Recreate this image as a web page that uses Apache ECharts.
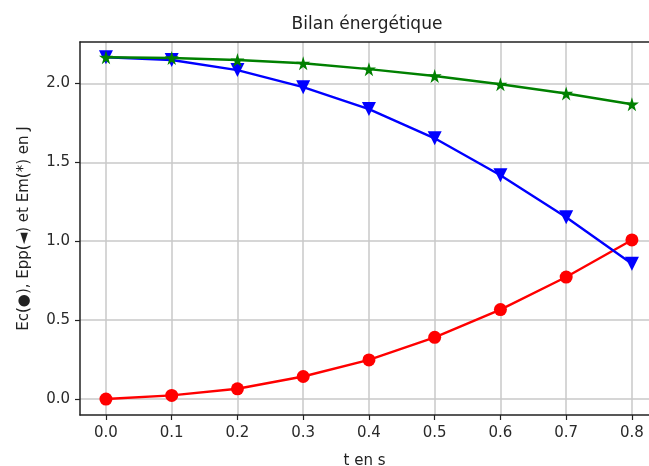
<!DOCTYPE html>
<html>
<head>
<meta charset="utf-8">
<script src="https://cdn.jsdelivr.net/npm/echarts@6/dist/echarts.min.js"></script>
<style>
  html, body { margin: 0; padding: 0; background: #fff; }
  #main { width: 649px; height: 466px; }
</style>
</head>
<body>
<div id="main"></div>
<script>
// temps (s)
var t = [0.0, 0.1, 0.2, 0.3, 0.4, 0.5, 0.6, 0.7, 0.8];
// energies (J)
var ec  = [0.0, 0.023, 0.065, 0.143, 0.248, 0.391, 0.567, 0.773, 1.008];
var epp = [2.165, 2.148, 2.084, 1.976, 1.837, 1.652, 1.418, 1.152, 0.857];
var em  = [2.165, 2.161, 2.148, 2.127, 2.090, 2.047, 1.994, 1.936, 1.868];
var xTicks = [0, 0.1, 0.2, 0.3, 0.4, 0.5, 0.6, 0.7, 0.8];
var yTicks = [0, 0.5, 1.0, 1.5, 2.0];

var star = 'path://M50,0 L61,35 L98,35 L68,57 L79,91 L50,70 L21,91 L32,57 L2,35 L39,35 Z';

function pairs(ys) {
    return t.map(function (x, i) { return [x, ys[i]]; });
}

var myChart = echarts.init(document.getElementById('main'));
var font = 'DejaVu Sans';
var spine = { show: true, onZero: false, lineStyle: { color: '#222', width: 1.5 } };

var option = {
    animation: false,
    title: {
        text: 'Bilan énergétique',
        left: 362, top: 11,
        textAlign: 'center',
        textStyle: { fontFamily: font, fontSize: 17, fontWeight: 'normal', color: '#222' }
    },
    grid: { left: 80, right: 0, top: 42, bottom: 51, outerBoundsMode: 'none' },
    xAxis: [{
        type: 'value', min: -0.0395, max: 0.826,
        name: 't en s', nameLocation: 'middle', nameGap: 39,
        nameTextStyle: { fontFamily: font, fontSize: 15, color: '#222' },
        axisLine: spine,
        axisTick: { show: true, length: 5, customValues: xTicks, lineStyle: { color: '#222', width: 1.2 } },
        axisLabel: { customValues: xTicks, fontFamily: font, fontSize: 15, color: '#2a2a2a', margin: 11,
            formatter: function (v) { return v.toFixed(1); } },
        splitLine: { show: true, lineStyle: { color: '#c8c8c8', width: 1.5 } }
    }, {
        type: 'value', position: 'top', min: -0.0395, max: 0.826,
        axisLine: spine, axisTick: { show: false }, axisLabel: { show: false }, splitLine: { show: false }
    }],
    yAxis: {
        type: 'value', min: -0.101, max: 2.262,
        name: 'Ec(●), Epp(◄) et Em(*) en J', nameLocation: 'middle', nameGap: 48, nameRotate: 90,
        nameTextStyle: { fontFamily: font, fontSize: 15, color: '#222' },
        axisLine: spine,
        axisTick: { show: true, length: 5, customValues: yTicks, lineStyle: { color: '#222', width: 1.2 } },
        axisLabel: { customValues: yTicks, fontFamily: font, fontSize: 15, color: '#2a2a2a', margin: 10,
            formatter: function (v) { return v.toFixed(1); } },
        splitLine: { show: true, lineStyle: { color: '#c8c8c8', width: 1.5 } }
    },
    series: [{
        name: 'Ec', type: 'line', data: pairs(ec),
        symbol: 'circle', symbolSize: 13,
        lineStyle: { color: '#ff0000', width: 2.4 },
        itemStyle: { color: '#ff0000' }
    }, {
        name: 'Epp', type: 'line', data: pairs(epp),
        symbol: 'triangle', symbolRotate: 180, symbolSize: 14,
        lineStyle: { color: '#0000ff', width: 2.4 },
        itemStyle: { color: '#0000ff' }
    }, {
        name: 'Em', type: 'line', data: pairs(em),
        symbol: star, symbolSize: 14,
        lineStyle: { color: '#008000', width: 2.4 },
        itemStyle: { color: '#008000' }
    }]
};

myChart.setOption(option);
</script>
</body>
</html>
